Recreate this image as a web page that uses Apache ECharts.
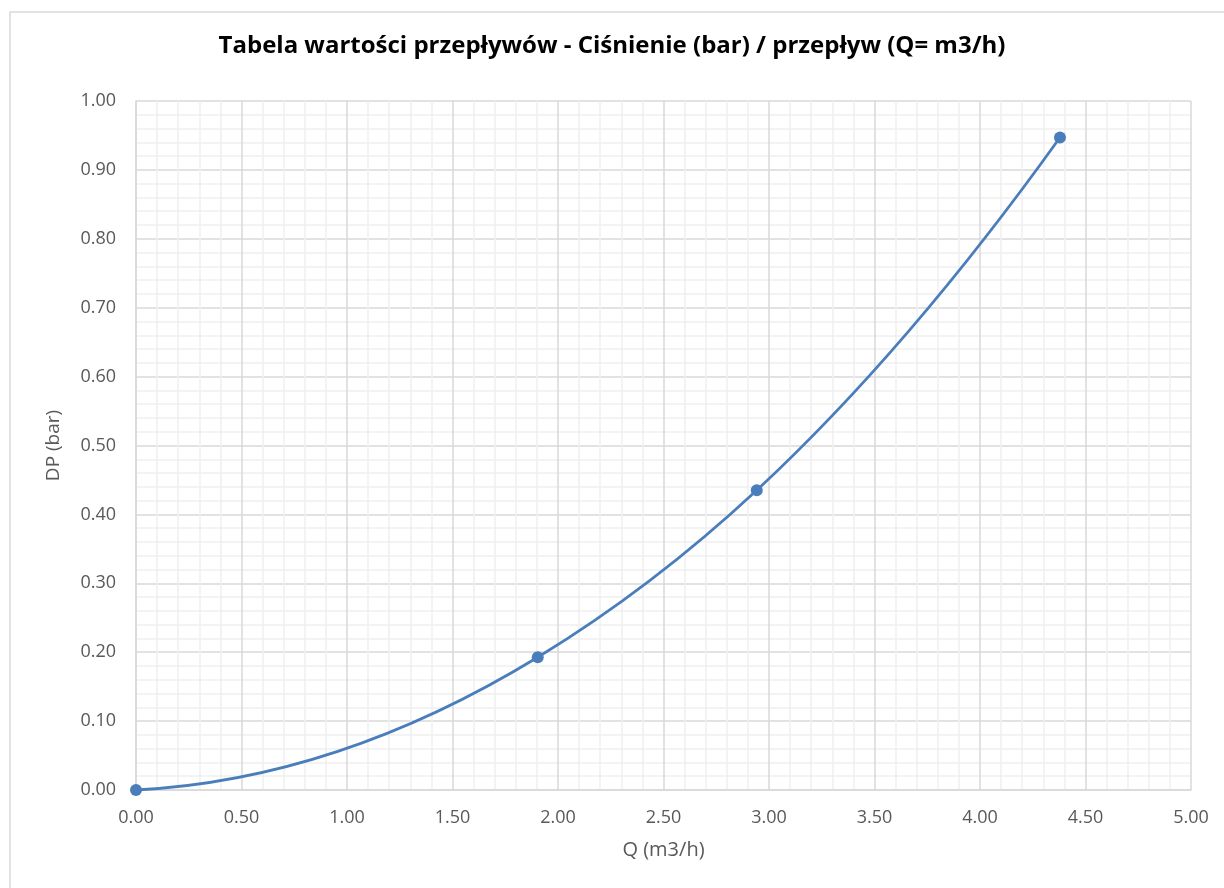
<!DOCTYPE html>
<html>
<head>
<meta charset="utf-8">
<script src="https://cdn.jsdelivr.net/npm/echarts@6/dist/echarts.min.js"></script>
<style>
html,body{margin:0;padding:0;background:#fff;}
#c{width:1224px;height:888px;}
</style>
</head>
<body>
<div id="c"></div>
<script>
var titleText = 'Tabela wartości przepływów - Ciśnienie (bar) / przepływ (Q= m3/h)';
var xName = 'Q (m3/h)';
var yName = 'DP (bar)';
var flowQ = [0, 1.904, 2.942, 4.379];
var pressureDP = [0, 0.1926, 0.435, 0.947];

var points = flowQ.map(function (q, i) { return [q, pressureDP[i]]; });
var lineColor = '#4a7ebb';

// Smoothed curve (Bessel tangents, like a spreadsheet "smoothed line") built in pixel space
function smoothPath(px) {
  var n = px.length;
  if (n < 2) return '';
  var h = [], d = [];
  for (var i = 0; i < n - 1; i++) {
    h.push(px[i + 1][0] - px[i][0]);
    d.push((px[i + 1][1] - px[i][1]) / h[i]);
  }
  var m = [];
  for (var j = 0; j < n; j++) {
    if (n === 2) { m.push(d[0]); continue; }
    if (j === 0) m.push(d[0] + (d[0] - d[1]) * h[0] / (h[0] + h[1]));
    else if (j === n - 1) m.push(d[n - 2] + (d[n - 2] - d[n - 3]) * h[n - 2] / (h[n - 3] + h[n - 2]));
    else m.push((h[j] * d[j - 1] + h[j - 1] * d[j]) / (h[j - 1] + h[j]));
  }
  var s = 'M' + px[0][0] + ' ' + px[0][1];
  for (var k = 0; k < n - 1; k++) {
    var t = h[k] / 3;
    s += ' C' + (px[k][0] + t) + ' ' + (px[k][1] + m[k] * t) + ' ' +
         (px[k + 1][0] - t) + ' ' + (px[k + 1][1] - m[k + 1] * t) + ' ' +
         px[k + 1][0] + ' ' + px[k + 1][1];
  }
  return s;
}

var chart = echarts.init(document.getElementById('c'));
var labelColor = '#595959';
var fontFam = '"Open Sans", "Noto Sans", sans-serif';
chart.setOption({
  animation: false,
  graphic: [{
    type: 'rect', shape: {x: 10, y: 12, width: 1240, height: 900},
    style: {fill: 'none', stroke: '#d9d9d9', lineWidth: 1.5}, z: -1
  }],
  title: {
    text: titleText, left: 'center', top: 29,
    textStyle: {fontFamily: fontFam, fontWeight: 'bold', fontSize: 24, color: '#000'}
  },
  grid: {left: 136, right: 33, top: 101, bottom: 98, containLabel: false},
  xAxis: {
    type: 'value', min: 0, max: 5, interval: 0.5,
    name: xName, nameLocation: 'middle', nameGap: 50,
    nameTextStyle: {color: labelColor, fontSize: 20, fontFamily: fontFam},
    axisLine: {show: true, lineStyle: {color: '#d9d9d9', width: 1.5}},
    axisTick: {show: false},
    axisLabel: {color: labelColor, fontSize: 18, fontFamily: fontFam, margin: 19,
      formatter: function (v) { return v.toFixed(2); }},
    splitLine: {show: true, lineStyle: {color: '#d9d9d9', width: 1.5}},
    minorTick: {show: false, splitNumber: 5},
    minorSplitLine: {show: true, lineStyle: {color: '#f0f0f0', width: 1.5}}
  },
  yAxis: {
    type: 'value', min: 0, max: 1, interval: 0.1,
    name: yName, nameLocation: 'middle', nameGap: 73, nameRotate: 90,
    nameTextStyle: {color: labelColor, fontSize: 19, fontFamily: fontFam},
    axisLine: {show: true, lineStyle: {color: '#d9d9d9', width: 1.5}},
    axisTick: {show: false},
    axisLabel: {color: labelColor, fontSize: 18, fontFamily: fontFam, margin: 20,
      formatter: function (v) { return v.toFixed(2); }},
    splitLine: {show: true, lineStyle: {color: '#d9d9d9', width: 1.5}},
    minorTick: {show: false, splitNumber: 5},
    minorSplitLine: {show: true, lineStyle: {color: '#f0f0f0', width: 1.5}}
  },
  series: [{
    type: 'custom',
    data: points,
    z: 2,
    renderItem: function (params, api) {
      if (params.dataIndex !== 0) return null;
      var px = points.map(function (p) { return api.coord(p); });
      return {
        type: 'path',
        shape: {pathData: smoothPath(px)},
        style: {fill: 'none', stroke: lineColor, lineWidth: 2.8}
      };
    }
  }, {
    type: 'scatter', data: points, z: 3,
    symbol: 'circle', symbolSize: 12,
    itemStyle: {color: lineColor, opacity: 1}
  }]
});
</script>
</body>
</html>
